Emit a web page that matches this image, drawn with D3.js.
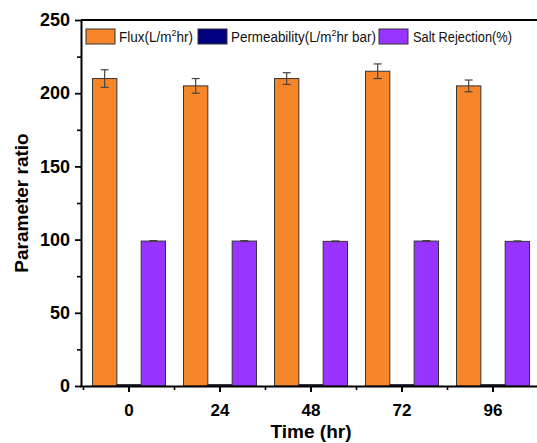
<!DOCTYPE html>
<html>
<head>
<meta charset="utf-8">
<script src="https://cdn.jsdelivr.net/npm/d3@7"></script>
<style>
  html, body { margin: 0; padding: 0; background: #fff; }
  svg { display: block; font-family: "Liberation Sans", Arial, sans-serif; }
</style>
</head>
<body>
<svg id="chart" width="537" height="443"></svg>
<script>
// Time points (hr)
const times = ["0", "24", "48", "72", "96"];
// Series values per time point
const flux = [210, 205, 210, 215, 205];
const fluxErr = [6, 5, 4, 5, 4];
const permeability = [1, 1, 1, 1, 1];
const permeabilityErr = [0, 0, 0, 0, 0];
const saltRejection = [99, 99, 98.8, 99, 98.8];
const saltRejectionErr = [0.3, 0.3, 0.3, 0.3, 0.3];
const yTicks = [0, 50, 100, 150, 200, 250];
const yMinorTicks = [25, 75, 125, 175, 225];

const seriesNames = ["flux", "perm", "salt"];
const seriesColors = { flux: "#F7862B", perm: "#000080", salt: "#9933FF" };

const svg = d3.select("#chart");
const plotLeft = 81, plotTop = 20, plotBottom = 386;

const x = d3.scaleBand().domain(times).range([83.5, 538.5]).paddingInner(0).paddingOuter(0);
const xSub = d3.scaleBand().domain(seriesNames).range([-36.5, 36.5]).padding(0);
const y = d3.scaleLinear().domain([0, 250]).range([plotBottom, plotTop]);

const rows = times.map((t, i) => ({
  t,
  values: [
    { key: "flux", v: flux[i], e: fluxErr[i] },
    { key: "perm", v: permeability[i], e: permeabilityErr[i] },
    { key: "salt", v: saltRejection[i], e: saltRejectionErr[i] }
  ]
}));

// Bars
const groups = svg.append("g").selectAll("g").data(rows).join("g")
  .attr("transform", d => `translate(${x(d.t) + x.bandwidth() / 2},0)`);

groups.selectAll("rect").data(d => d.values).join("rect")
  .attr("x", d => xSub(d.key))
  .attr("width", xSub.bandwidth())
  .attr("y", d => y(d.v))
  .attr("height", d => y(0) - y(d.v))
  .attr("fill", d => seriesColors[d.key])
  .attr("stroke", "#333")
  .attr("stroke-width", 1);

// Error bars
const err = groups.selectAll("g.err").data(d => d.values.filter(v => v.e > 0)).join("g")
  .attr("class", "err")
  .attr("stroke", "#444")
  .attr("stroke-width", 1.2);
err.append("line")
  .attr("x1", d => xSub(d.key) + xSub.bandwidth() / 2)
  .attr("x2", d => xSub(d.key) + xSub.bandwidth() / 2)
  .attr("y1", d => y(d.v + d.e))
  .attr("y2", d => y(d.v - d.e));
["+", "-"].forEach(s => {
  err.append("line")
    .attr("x1", d => xSub(d.key) + xSub.bandwidth() / 2 - 4)
    .attr("x2", d => xSub(d.key) + xSub.bandwidth() / 2 + 4)
    .attr("y1", d => y(s === "+" ? d.v + d.e : d.v - d.e))
    .attr("y2", d => y(s === "+" ? d.v + d.e : d.v - d.e));
});

// Frame top line
svg.append("line")
  .attr("x1", plotLeft).attr("x2", 540).attr("y1", plotTop).attr("y2", plotTop)
  .attr("stroke", "#000").attr("stroke-width", 2);

// Y axis
const yAxis = svg.append("g").attr("transform", `translate(${plotLeft},0)`)
  .call(d3.axisLeft(y).tickValues(yTicks).tickSize(6).tickPadding(5).tickSizeOuter(0));
yAxis.select(".domain").attr("stroke-width", 2);
yAxis.selectAll(".tick line").attr("stroke-width", 1.8);
yAxis.selectAll(".tick text").attr("font-size", 18).attr("font-weight", "bold").attr("fill", "#000")
  .attr("font-family", "Liberation Sans, Arial, sans-serif");
svg.append("g").attr("transform", `translate(${plotLeft},0)`)
  .call(d3.axisLeft(y).tickValues(yMinorTicks).tickSize(4).tickFormat(""))
  .call(g => g.select(".domain").remove())
  .selectAll(".tick line").attr("stroke-width", 1.6);

// X axis
const xAxis = svg.append("g").attr("transform", `translate(0,${plotBottom})`)
  .call(d3.axisBottom(x).tickSize(6).tickPadding(12).tickSizeOuter(0));
xAxis.select(".domain").attr("d", `M${plotLeft - 1},0.5H540`).attr("stroke-width", 2);
xAxis.selectAll(".tick line").attr("stroke-width", 2);
xAxis.selectAll(".tick text").attr("font-size", 17).attr("font-weight", "bold").attr("fill", "#000")
  .attr("font-family", "Liberation Sans, Arial, sans-serif");
// Minor ticks at band boundaries
svg.append("g").selectAll("line").data(times).join("line")
  .attr("x1", d => x(d)).attr("x2", d => x(d))
  .attr("y1", plotBottom).attr("y2", plotBottom + 4)
  .attr("stroke", "#000").attr("stroke-width", 1.6);

// Axis titles
svg.append("text")
  .attr("transform", `translate(28,203) rotate(-90)`)
  .attr("text-anchor", "middle")
  .attr("font-size", 19).attr("font-weight", "bold")
  .text("Parameter ratio");
svg.append("text")
  .attr("x", 311).attr("y", 438)
  .attr("text-anchor", "middle")
  .attr("font-size", 19).attr("font-weight", "bold")
  .text("Time (hr)");

// Legend: swatch plus label, each label squeezed horizontally to its slot width
const legendItems = [
  { key: "flux", bx: 86, tx: 119, w: 74, parts: ["Flux(L/m", "2", "hr)"] },
  { key: "perm", bx: 198, tx: 231, w: 145, parts: ["Permeability(L/m", "2", "hr bar)"] },
  { key: "salt", bx: 379, tx: 413, w: 99, parts: ["Salt Rejection(%)"] }
];
const lg = svg.append("g").selectAll("g").data(legendItems).join("g");
lg.append("rect")
  .attr("x", d => d.bx).attr("y", 29).attr("width", 29).attr("height", 15)
  .attr("fill", d => seriesColors[d.key]).attr("stroke", "#333").attr("stroke-width", 1);
const lt = lg.append("text")
  .attr("x", 0).attr("y", 0)
  .attr("font-size", 14.5).attr("fill", "#111");
lt.each(function (d) {
  const t = d3.select(this);
  d.parts.forEach((p, i) => {
    const span = t.append("tspan").text(p);
    if (d.parts.length === 3 && i === 1) span.attr("font-size", 9.5).attr("dy", -6);
    if (d.parts.length === 3 && i === 2) span.attr("dy", 6);
  });
  const natural = this.getComputedTextLength();
  t.attr("transform", `translate(${d.tx},42) scale(${d.w / natural},1)`);
});
</script>
</body>
</html>
